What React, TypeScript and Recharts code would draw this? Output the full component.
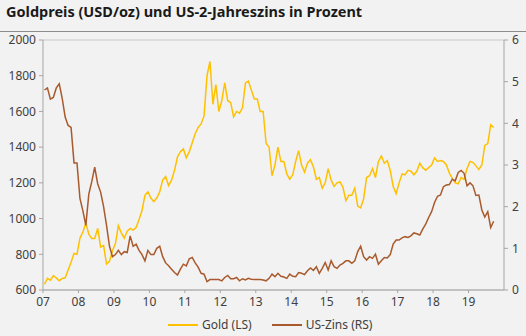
import React from 'react';
import { LineChart, Line, XAxis, YAxis, CartesianGrid, Legend } from 'recharts';

// ─── Data (monthly, Jan 2007 – Sep 2019) ─────────────────────────────────────

const START_YEAR = 2007;

const YEAR_TICKS = [2007, 2008, 2009, 2010, 2011, 2012, 2013, 2014, 2015, 2016, 2017, 2018, 2019];
const GOLD_TICKS = [600, 800, 1000, 1200, 1400, 1600, 1800, 2000];
const ZINS_TICKS = [0, 1, 2, 3, 4, 5, 6];

// Gold in USD/oz (left scale)
const gold = [
  632, 665, 655, 680, 668, 652, 665, 668, 712, 755, 805, 800,
  890, 925, 975, 912, 888, 888, 945, 840, 850, 745, 760, 820,
  860, 960, 920, 890, 930, 945, 935, 950, 995, 1045, 1130, 1150,
  1115, 1095, 1115, 1150, 1215, 1235, 1185, 1215, 1270, 1345, 1375, 1390,
  1340, 1375, 1425, 1475, 1510, 1530, 1575, 1800, 1880, 1640, 1750, 1600,
  1660, 1760, 1660, 1650, 1570, 1600, 1590, 1620, 1760, 1770, 1720, 1670,
  1670, 1600, 1600, 1420, 1400, 1240, 1300, 1400, 1320, 1320, 1250, 1220,
  1245, 1320, 1380, 1300, 1260, 1310, 1330, 1290, 1220, 1230, 1170, 1200,
  1280, 1215, 1180, 1200, 1205, 1175, 1100, 1130, 1130, 1170, 1070, 1060,
  1110, 1230, 1240, 1280, 1230, 1320, 1350, 1310, 1325, 1270, 1180, 1140,
  1200, 1250, 1245, 1270, 1265, 1245, 1265, 1310, 1285, 1270, 1285, 1300,
  1340, 1320, 1325, 1320, 1300, 1255, 1225, 1200, 1195, 1230, 1220, 1280,
  1320, 1315, 1295, 1275, 1300, 1410, 1420, 1525, 1510,
];

// US 2-year yield in % (right scale)
const zins = [
  4.80, 4.85, 4.58, 4.62, 4.85, 4.95, 4.60, 4.15, 3.95, 3.90, 3.05, 3.05,
  2.20, 1.90, 1.55, 2.30, 2.60, 2.95, 2.55, 2.35, 2.00, 1.55, 1.05, 0.80,
  0.85, 0.95, 0.85, 0.92, 0.90, 1.30, 1.05, 1.10, 0.95, 0.85, 0.70, 0.95,
  0.85, 0.85, 1.00, 1.05, 0.80, 0.65, 0.58, 0.50, 0.42, 0.36, 0.50, 0.62,
  0.58, 0.75, 0.78, 0.65, 0.55, 0.40, 0.38, 0.20, 0.25, 0.25, 0.25, 0.25,
  0.22, 0.30, 0.35, 0.27, 0.27, 0.30, 0.22, 0.27, 0.24, 0.28, 0.26, 0.25,
  0.25, 0.25, 0.24, 0.22, 0.28, 0.38, 0.32, 0.40, 0.33, 0.31, 0.28, 0.38,
  0.33, 0.32, 0.42, 0.40, 0.37, 0.46, 0.53, 0.47, 0.56, 0.40, 0.52, 0.66,
  0.48, 0.70, 0.56, 0.52, 0.60, 0.64, 0.70, 0.70, 0.64, 0.70, 0.92, 1.05,
  0.80, 0.72, 0.80, 0.76, 0.86, 0.62, 0.70, 0.78, 0.77, 0.85, 1.10, 1.20,
  1.20, 1.25, 1.28, 1.26, 1.30, 1.37, 1.35, 1.32, 1.46, 1.58, 1.74, 1.88,
  2.10, 2.25, 2.28, 2.48, 2.52, 2.53, 2.66, 2.62, 2.82, 2.87, 2.80, 2.50,
  2.57, 2.50, 2.27, 2.28, 1.92, 1.75, 1.88, 1.50, 1.65,
];

const data = gold.map((g, i) => ({ t: START_YEAR + i / 12 + 1 / 24, gold: g, zins: zins[i] }));

// ─── Styles ──────────────────────────────────────────────────────────────────

const FONT = '"Noto Sans", "Open Sans", sans-serif';
const GOLD = '#ffc000';
const BROWN = '#a95a2c';
const AXIS = '#a6a6a6';
const TICK = { fontSize: 12, fill: '#404040', fontFamily: FONT };

function LegendContent() {
  const item = (color: string, label: string) => (
    <span style={{ display: 'inline-flex', alignItems: 'center', marginRight: 20 }}>
      <span style={{ width: 30, height: 2, background: color, marginRight: 4 }} />
      <span>{label}</span>
    </span>
  );
  return (
    <div style={{ display: 'flex', fontFamily: FONT, fontSize: 12, color: '#404040', paddingLeft: 168, paddingTop: 2 }}>
      {item(GOLD, 'Gold (LS)')}
      {item(BROWN, 'US-Zins (RS)')}
    </div>
  );
}

export default function App() {
  return (
    <div style={{ position: 'absolute', left: 0, top: 0, width: 526, height: 336, background: '#f2f2f2', overflow: 'hidden' }}>
      <div style={{ position: 'absolute', left: 6, top: 1, fontFamily: FONT, fontWeight: 700, fontSize: 14.5, color: '#1a1a1a', whiteSpace: 'nowrap' }}>
        Goldpreis (USD/oz) und US-2-Jahreszins in Prozent
      </div>
      <div style={{ position: 'absolute', left: 0, top: 31, width: 526, height: 1, background: '#8c8c8c' }} />
      <LineChart width={526} height={336} data={data} margin={{ top: 40, right: 0, left: 0, bottom: 0 }}>
        <CartesianGrid vertical={false} stroke="#c8c8c8" strokeWidth={1} />
        <XAxis
          dataKey="t" type="number" domain={[2007, 2020]} ticks={YEAR_TICKS}
          tickFormatter={(v: number) => String(v).slice(2)}
          tick={TICK} stroke={AXIS} tickSize={3} tickMargin={4} height={24}
        />
        <YAxis
          yAxisId="left" domain={[600, 2000]} ticks={GOLD_TICKS} width={43}
          tick={TICK} stroke={AXIS} tickSize={4} tickMargin={3}
        />
        <YAxis
          yAxisId="right" orientation="right" domain={[0, 6]} ticks={ZINS_TICKS} width={22}
          tick={TICK} stroke={AXIS} tickSize={4} tickMargin={4}
        />
        <Legend verticalAlign="bottom" height={22} content={() => <LegendContent />} />
        <Line yAxisId="left" type="linear" dataKey="gold" stroke={GOLD} strokeWidth={1.5} dot={false} isAnimationActive={false} name="Gold (LS)" />
        <Line yAxisId="right" type="linear" dataKey="zins" stroke={BROWN} strokeWidth={1.5} dot={false} isAnimationActive={false} name="US-Zins (RS)" />
      </LineChart>
    </div>
  );
}
